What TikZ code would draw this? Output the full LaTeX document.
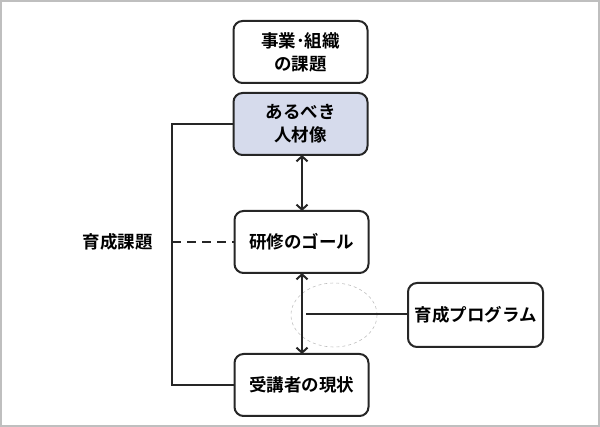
\documentclass[tikz,border=0pt]{standalone}
\usepackage{fontspec}
\newfontfamily\cjk{Noto Sans CJK JP Bold}
\usetikzlibrary{arrows.meta}
\definecolor{lav}{HTML}{D6DBEC}
\begin{document}
\begin{tikzpicture}[x=1pt,y=-1pt,
  box/.style={draw=black!85,line width=2pt,rounded corners=9pt,fill=white,
    minimum width=134pt,minimum height=62pt,align=center,inner sep=0pt,
    font=\cjk\fontsize{17.5}{23}\selectfont},
  lbl/.style={font=\cjk\fontsize{17.5}{23}\selectfont,inner sep=0pt},
  conn/.style={line width=2pt,draw=black!85},
  dbl/.style={conn,{Straight Barb[length=5pt,width=11pt,line width=2pt]}-{Straight Barb[length=5pt,width=11pt,line width=2pt]}}]
\useasboundingbox (0,0) rectangle (600,427);
\draw[draw=black!25,line width=2pt] (1,1) rectangle (599,426);
\node[box] (top) at (300.5,52) {事業･組織\\の課題};
\node[box,fill=lav] (ideal) at (300.5,124) {あるべき\\人材像};
\node[box] (goal) at (301.5,242) {研修のゴール};
\node[box] (now) at (301.5,385) {受講者の現状};
\node[box,minimum width=135pt,minimum height=64pt] (prog) at (475.5,315) {育成プログラム};
\node[lbl,anchor=east] (issue) at (153,242) {育成課題};
\draw[draw=black!25,dashed,line width=0.6pt] (334,315) ellipse [x radius=43pt,y radius=32pt];
\coordinate (tl) at (172,124);
\coordinate (bl) at (172,385);
\coordinate (ml) at (172,242);
\draw[conn] (ideal.west) -- (tl) -- (bl) -- (now.west);
\draw[conn,dash pattern=on 9pt off 6pt] (ml) -- (goal.west);
\draw[dbl] ([yshift=1pt]ideal.south -| 302,0) -- ([yshift=-1pt]goal.north -| 302,0);
\draw[dbl] ([yshift=1pt]goal.south -| 302,0) -- ([yshift=-1pt]now.north -| 302,0);
\coordinate (j) at (306,314);
\draw[conn] (prog.west |- j) -- (j);
\end{tikzpicture}
\end{document}
